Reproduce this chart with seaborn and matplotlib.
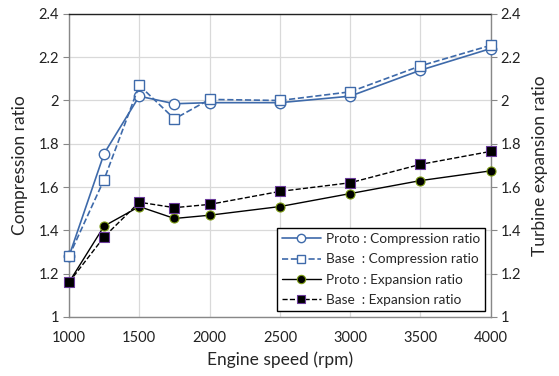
import matplotlib
matplotlib.use("Agg")
import matplotlib.pyplot as plt
import seaborn as sns
import pandas as pd

speed = [1000, 1250, 1500, 1750, 2000, 2500, 3000, 3500, 4000]
proto_comp = [1.28, 1.755, 2.02, 1.985, 1.99, 1.99, 2.02, 2.14, 2.24]
base_comp = [1.28, 1.635, 2.07, 1.915, 2.005, 2.0, 2.04, 2.16, 2.255]
proto_exp = [1.16, 1.42, 1.51, 1.455, 1.47, 1.51, 1.57, 1.63, 1.675]
base_exp = [1.16, 1.37, 1.53, 1.505, 1.52, 1.58, 1.62, 1.705, 1.765]

labels = ["Proto : Compression ratio", "Base  : Compression ratio",
          "Proto : Expansion ratio", "Base  : Expansion ratio"]
xticks = [1000, 1500, 2000, 2500, 3000, 3500, 4000]
yticks = [1, 1.2, 1.4, 1.6, 1.8, 2, 2.2, 2.4]

sns.set_style("white")
plt.rcParams['font.family'] = ['Lato', 'DejaVu Sans']

df = pd.DataFrame({"speed": speed, "pc": proto_comp, "bc": base_comp,
                   "pe": proto_exp, "be": base_exp})

fig = plt.figure(figsize=(5.59, 3.76), dpi=100)
ax = fig.add_axes([0.1234, 0.157, 0.7546, 0.806])

blue = "#3E6AAA"
common = dict(ax=ax, clip_on=False, zorder=3)
sns.lineplot(data=df, x="speed", y="pc", color=blue, lw=1.2,
             marker="o", ms=7.5, mfc="white", mec=blue, mew=1.0, label=labels[0], **common)
sns.lineplot(data=df, x="speed", y="bc", color=blue, lw=1.2, ls="--",
             marker="s", ms=7.5, mfc="white", mec=blue, mew=1.0, label=labels[1], **common)
sns.lineplot(data=df, x="speed", y="pe", color="black", lw=1.0,
             marker="o", ms=6.5, mfc="black", mec="#7A9A10", mew=0.8, label=labels[2], **common)
sns.lineplot(data=df, x="speed", y="be", color="black", lw=1.0, ls="--",
             marker="s", ms=6.5, mfc="black", mec="#6A3A9A", mew=0.8, label=labels[3], **common)

ax.set_xlim(1000, 4000)
ax.set_ylim(1, 2.4)
ax.set_xticks(xticks)
ax.set_yticks(yticks)
ax.set_yticklabels([f"{v:g}" for v in yticks])
ax.grid(True, color="#d9d9d9", lw=0.9)
ax.set_axisbelow(True)
ax.tick_params(axis="both", direction="out", length=4, width=0.8, color="#888888",
               labelsize=10.5, pad=3, labelcolor="#222222")
ax.tick_params(axis="x", pad=6)
for s in ["left", "bottom", "right"]:
    ax.spines[s].set_color("#888888")
    ax.spines[s].set_linewidth(1.0)
ax.spines["top"].set_color("#222222")
ax.spines["top"].set_linewidth(1.0)
ax.set_xlabel("Engine speed (rpm)", fontsize=12.5, labelpad=5)
ax.set_ylabel("Compression ratio", fontsize=12.5, labelpad=8)

ax2 = ax.twinx()
ax2.set_ylim(1, 2.4)
ax2.set_yticks(yticks)
ax2.set_yticklabels([f"{v:g}" for v in yticks])
ax2.tick_params(axis="y", direction="out", length=4, width=0.8, color="#888888",
                labelsize=10.5, pad=3, labelcolor="#222222")
for s in ax2.spines.values():
    s.set_visible(False)
ax2.set_ylabel("Turbine expansion ratio", fontsize=12.5, labelpad=8)

leg = ax.legend(loc="lower right", bbox_to_anchor=(0.986, 0.02), fontsize=9.8,
                frameon=True, fancybox=False, edgecolor="black", framealpha=1,
                handlelength=2.9, borderpad=0.35, labelspacing=0.62, handletextpad=0.35,
                borderaxespad=0)
leg.get_frame().set_linewidth(1.0)
leg.set_zorder(5)
for h in leg.legend_handles:
    h.set_markersize(6)

fig.savefig("out.png", dpi=100)
